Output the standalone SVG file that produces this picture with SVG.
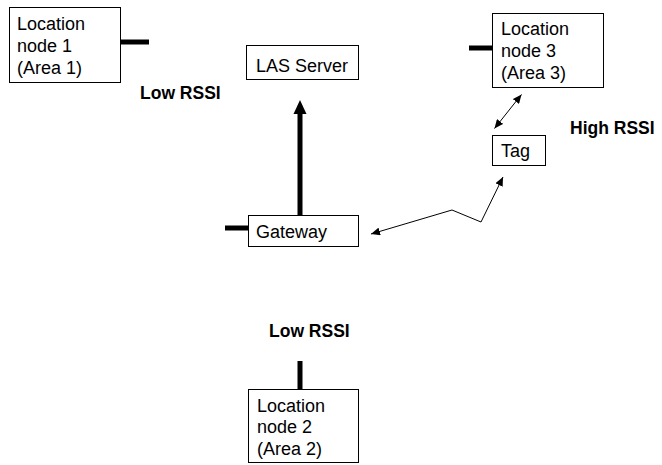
<svg xmlns="http://www.w3.org/2000/svg" width="662" height="465" viewBox="0 0 662 465">
  <style>
    .box { fill: #ffffff; stroke: #000000; stroke-width: 1; }
    .label { font-family: "Liberation Sans", Arial, Helvetica, sans-serif; font-size: 18px; fill: #000000; }
    .rssi { font-family: "Liberation Sans", Arial, Helvetica, sans-serif; font-size: 17.5px; font-weight: bold; fill: #000000; }
    .stub { stroke: #000000; stroke-width: 5; fill: none; }
    .thin { stroke: #000000; stroke-width: 1; fill: none; }
  </style>
  <defs>
    <marker id="tip" markerUnits="userSpaceOnUse" markerWidth="10" markerHeight="8" refX="9" refY="4" orient="auto-start-reverse">
      <path d="M0,0 L9,4 L0,8 Z" fill="#000000"/>
    </marker>
  </defs>
  <rect width="662" height="465" fill="#ffffff"/>

  <g id="connectors">
    <!-- antenna stubs -->
    <line class="stub" x1="120" y1="42" x2="149" y2="42"/>
    <line class="stub" x1="469" y1="48" x2="492" y2="48"/>
    <line class="stub" x1="225" y1="228" x2="248" y2="228"/>
    <line class="stub" x1="300" y1="361" x2="300" y2="389"/>
    <!-- gateway to server uplink -->
    <line class="stub" x1="300" y1="215" x2="300" y2="112"/>
    <polygon points="300,100 306.5,114 293.5,114" fill="#000000"/>
    <!-- node 3 <-> tag -->
    <line class="thin" x1="521.5" y1="94.5" x2="494.5" y2="128.5" marker-start="url(#tip)" marker-end="url(#tip)"/>
    <!-- tag -> gateway relay path -->
    <polyline class="thin" points="503,177 481,222 452,210 371,234" marker-start="url(#tip)" marker-end="url(#tip)"/>
  </g>

  <g id="node1">
    <rect class="box" x="9.5" y="7.5" width="111" height="75"/>
    <text class="label" x="17" y="30">Location</text>
    <text class="label" x="17" y="52">node 1</text>
    <text class="label" x="17" y="74">(Area 1)</text>
  </g>

  <g id="las-server">
    <rect class="box" x="246.5" y="45.5" width="112" height="34"/>
    <text class="label" x="256" y="72">LAS Server</text>
  </g>

  <g id="node3">
    <rect class="box" x="492.5" y="13.5" width="111" height="74"/>
    <text class="label" x="501" y="35">Location</text>
    <text class="label" x="501" y="57">node 3</text>
    <text class="label" x="501" y="79">(Area 3)</text>
  </g>

  <g id="tag">
    <rect class="box" x="492.5" y="135.5" width="53" height="30"/>
    <text class="label" x="501" y="157">Tag</text>
  </g>

  <g id="gateway">
    <rect class="box" x="248.5" y="215.5" width="110" height="31"/>
    <text class="label" x="256" y="238">Gateway</text>
  </g>

  <g id="node2">
    <rect class="box" x="248.5" y="389.5" width="110" height="73"/>
    <text class="label" x="257" y="412">Location</text>
    <text class="label" x="257" y="433">node 2</text>
    <text class="label" x="257" y="455">(Area 2)</text>
  </g>

  <g id="rssi-labels">
    <text class="rssi" x="140" y="99">Low RSSI</text>
    <text class="rssi" x="570" y="134">High RSSI</text>
    <text class="rssi" x="269" y="337">Low RSSI</text>
  </g>
</svg>
